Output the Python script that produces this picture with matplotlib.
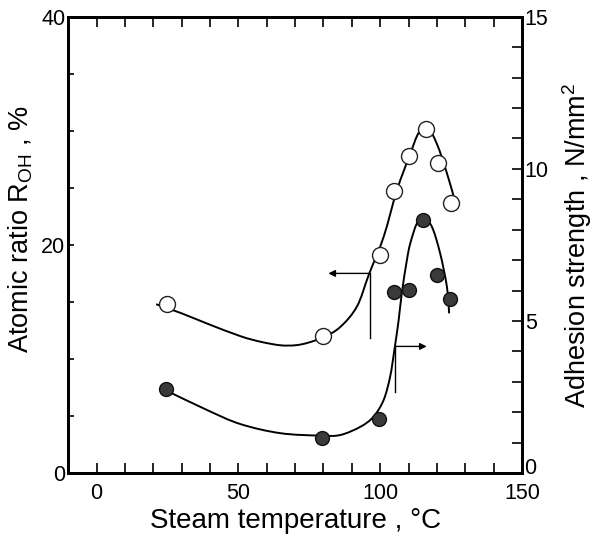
import matplotlib
matplotlib.use("Agg")
import matplotlib.pyplot as plt
from matplotlib.path import Path
from matplotlib.patches import PathPatch
from matplotlib.ticker import MultipleLocator, FixedLocator, FuncFormatter

plt.rcParams['font.family'] = ['Liberation Sans', 'DejaVu Sans']
plt.rcParams['mathtext.fontset'] = 'custom'
plt.rcParams['mathtext.rm'] = 'Liberation Sans'
plt.rcParams['mathtext.it'] = 'Liberation Sans'

# measured points: open circles -> atomic ratio (left axis)
temp_open = [25, 80, 100, 105, 110, 116, 120.5, 125]
r_oh = [14.8, 12.0, 19.1, 24.7, 27.8, 30.2, 27.2, 23.7]

# filled circles -> adhesion strength (right axis)
temp_fill = [24.5, 79.5, 99.5, 105, 110, 115, 120, 124.6]
adhesion = [2.76, 1.14, 1.77, 5.96, 6.02, 8.32, 6.51, 5.72]

# hand-drawn guide curves
curve_open_t = [21, 30, 39, 50.7, 58, 64.8, 70, 74.2, 80, 85.9, 91.8, 96,
                101.2, 105.9, 110.6, 113.5, 116.4, 119.9, 123.5, 126.4]
curve_open_v = [14.8, 14.0, 13.1, 12.0, 11.5, 11.2, 11.2, 11.4, 11.9, 12.8,
                14.6, 17.4, 20.7, 24.8, 28.0, 29.8, 30.4, 28.9, 26.3, 23.8]

curve_fill_t = [25.5, 39, 50.7, 64.8, 78.9, 85.9, 93, 97.6, 101.2, 103.5,
                105, 106.5, 107.6, 109.4, 110.6, 112.9, 115.2, 118.2, 121.1,
                123.5, 124.3]
curve_fill_v = [2.67, 2.07, 1.61, 1.31, 1.23, 1.25, 1.52, 1.85, 2.4, 3.17,
                4.05, 5.03, 5.91, 7.0, 7.55, 8.2, 8.38, 8.1, 7.23, 6.13, 5.25]

# axis pointers (left-axis units): stem x, stem top, stem bottom, arrow tip x
arrow_left = (96.3, 17.5, 11.8, 81.7)
arrow_right = (105.3, 11.1, 7.1, 116.4)


def smooth_path(xs, ys):
    # pass a bezier through the read-off points (catmull-rom tangents)
    pts = list(zip(xs, ys))
    verts = [pts[0]]
    codes = [Path.MOVETO]
    for i in range(len(pts) - 1):
        p0 = pts[i - 1] if i > 0 else pts[i]
        p1 = pts[i]
        p2 = pts[i + 1]
        p3 = pts[i + 2] if i + 2 < len(pts) else pts[i + 1]
        c1 = (p1[0] + (p2[0] - p0[0]) / 6, p1[1] + (p2[1] - p0[1]) / 6)
        c2 = (p2[0] - (p3[0] - p1[0]) / 6, p2[1] - (p3[1] - p1[1]) / 6)
        verts += [c1, c2, p2]
        codes += [Path.CURVE4] * 3
    return Path(verts, codes)


fig = plt.figure(figsize=(5.98, 5.4), dpi=100)
ax = fig.add_axes([0.114, 0.124, 0.759, 0.845])
ax2 = ax.twinx()

ax.add_patch(PathPatch(smooth_path(curve_open_t, curve_open_v),
                       fc='none', ec='black', lw=1.4))
ax.plot(temp_open, r_oh, 'o', ms=11.5, mfc='white', mec='#222222', mew=1.0)
ax2.add_patch(PathPatch(smooth_path(curve_fill_t, curve_fill_v),
                        fc='none', ec='black', lw=1.4))
ax2.plot(temp_fill, adhesion, 'o', ms=10, mfc='#3a3a3a', mec='#111111', mew=1.0)

for sx, top, bot, tip in (arrow_left, arrow_right):
    ax.plot([sx, sx], [top, bot], color='black', lw=1.0)
    ax.annotate('', xy=(tip, top), xytext=(sx, top),
                arrowprops=dict(arrowstyle='-|>', color='black', lw=1.0,
                                mutation_scale=10, shrinkA=0, shrinkB=0))

ax.set_xlim(-10, 150)
ax.set_ylim(0, 40)
ax2.set_ylim(0, 15)

ax.xaxis.set_major_locator(FixedLocator([0, 50, 100, 150]))
ax.xaxis.set_minor_locator(MultipleLocator(10))
ax.yaxis.set_major_locator(MultipleLocator(20))
ax.yaxis.set_minor_locator(MultipleLocator(5))
ax2.yaxis.set_major_locator(MultipleLocator(5))
ax2.yaxis.set_minor_locator(MultipleLocator(1))
# the right-hand "0" is placed by hand just above the "150"
ax2.yaxis.set_major_formatter(FuncFormatter(lambda v, p: '' if v == 0 else f'{v:g}'))

ax.tick_params(axis='x', which='both', direction='in', top=True, length=7,
               width=1.2, labelsize=15.5, pad=7)
ax.tick_params(axis='y', which='both', direction='in', length=4, width=1.2,
               labelsize=15.5, pad=2)
ax2.tick_params(axis='y', which='both', direction='in', length=7, width=1.2,
                labelsize=15.5, pad=2)
ax2.annotate('0', xy=(1, 0), xycoords='axes fraction', xytext=(1.5, 3),
             textcoords='offset points', ha='left', va='center', fontsize=15.5)

for a in (ax, ax2):
    for s in a.spines.values():
        s.set_linewidth(2.0)

ax.set_xlabel('Steam temperature , °C', fontsize=20, labelpad=3)
ax.set_ylabel('Atomic ratio R$_{\\rm OH}$ , %', fontsize=19.5, labelpad=2)
ax.yaxis.set_label_coords(-0.072, 0.535)
ax2.set_ylabel('Adhesion strength , N/mm$^{2}$', fontsize=19.5, labelpad=8)

fig.savefig('out.png', dpi=100)
